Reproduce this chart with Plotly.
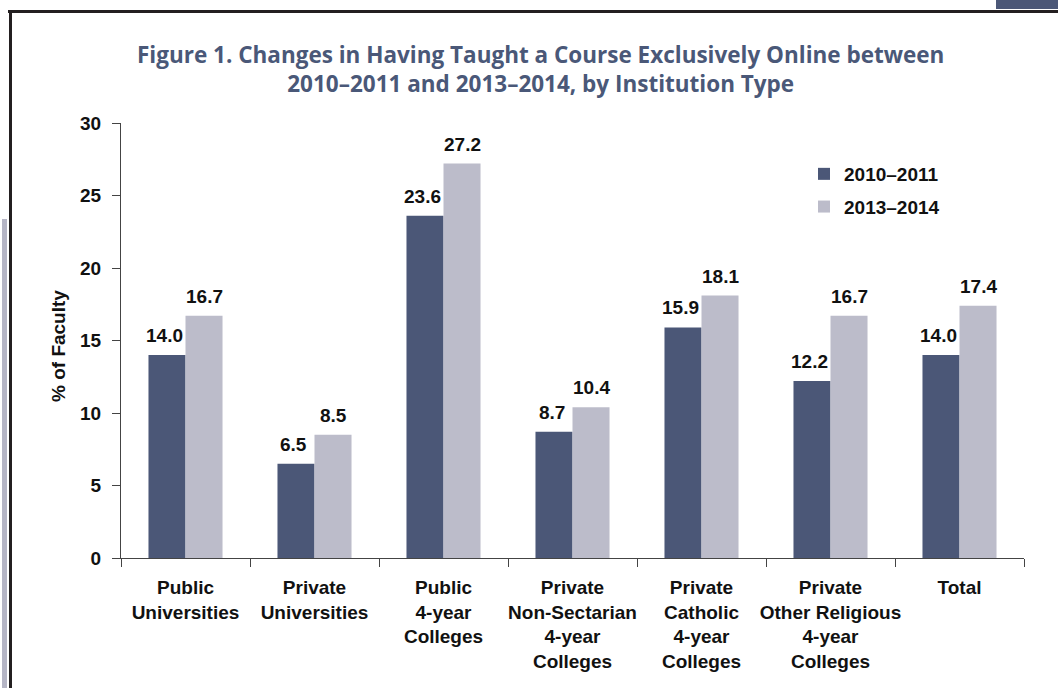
import plotly.graph_objects as go

categories = [
    "Public<br>Universities",
    "Private<br>Universities",
    "Public<br>4-year<br>Colleges",
    "Private<br>Non-Sectarian<br>4-year<br>Colleges",
    "Private<br>Catholic<br>4-year<br>Colleges",
    "Private<br>Other Religious<br>4-year<br>Colleges",
    "Total",
]
values_2010_2011 = [14.0, 6.5, 23.6, 8.7, 15.9, 12.2, 14.0]
values_2013_2014 = [16.7, 8.5, 27.2, 10.4, 18.1, 16.7, 17.4]
series_names = ["2010\u20132011", "2013\u20132014"]
y_ticks = [0, 5, 10, 15, 20, 25, 30]
title_text = ("Figure 1. Changes in Having Taught a Course Exclusively Online between<br>"
              "2010\u20132011 and 2013\u20132014, by Institution Type")
y_title = "% of Faculty"

W, H = 1058, 688
PL, PR, PT, PB = 121, 1024, 123, 558

DARK = "#4b5777"
LIGHT = "#bcbcca"
FONT = "Liberation Sans, Arial, sans-serif"
BOLD = dict(family=FONT, size=19, color="#111111", weight="bold")


def px_x(x):
    return (x - PL) / (PR - PL)


def px_y(y):
    return (PB - y) / (PB - PT)


fig = go.Figure()
series = [values_2010_2011, values_2013_2014]
for i, (name, vals, col) in enumerate(zip(series_names, series, [DARK, LIGHT])):
    fig.add_trace(go.Bar(
        x=categories, y=vals, name=name, marker=dict(color=col, line=dict(width=0)),
        legendgroup=f"g{i}", hoverinfo="x+y+name",
    ))

# value labels above the bars (about half a bar width left/right of the category centre)
annotations = []
for i, vals in enumerate(series):
    shift = -21 if i == 0 else 18.5
    for cat, v in zip(categories, vals):
        annotations.append(dict(
            x=cat, y=v, xref="x", yref="y", text=f"{v:.1f}", showarrow=False,
            xanchor="center", yanchor="bottom", xshift=shift, yshift=7, font=BOLD,
        ))

annotations.append(dict(
    text=title_text, xref="paper", yref="paper", x=px_x(540), y=px_y(69.5),
    xanchor="center", yanchor="middle", showarrow=False,
    font=dict(family="Open Sans, sans-serif", size=22.5, color="#4a5878", weight="bold"),
))
annotations.append(dict(
    text=y_title, xref="paper", yref="paper", x=px_x(58), y=px_y(346),
    xanchor="center", yanchor="middle", showarrow=False, textangle=-90, font=BOLD,
))

# page frame bits around the chart
frame = [
    (8, 10, W, 13, "#231f20"),
    (9, 10, 12, H, "#231f20"),
    (2, 219, 7, H, "#b5b5c5"),
    (996, 0, W, 9, DARK),
]
shapes = []
for x0, y0, x1, y1, c in frame:
    shapes.append(dict(type="rect", xref="paper", yref="paper",
                       x0=px_x(x0), x1=px_x(x1), y0=px_y(y1), y1=px_y(y0),
                       fillcolor=c, line=dict(width=0), layer="above"))

fig.update_layout(
    width=W, height=H,
    margin=dict(l=PL, r=W - PR, t=PT, b=H - PB),
    paper_bgcolor="white", plot_bgcolor="white",
    barmode="group", bargap=0.426, bargroupgap=0,
    font=dict(family=FONT, size=19, color="#111111"),
    legend=dict(
        x=px_x(804), y=px_y(155), xanchor="left", yanchor="top",
        font=BOLD, bgcolor="rgba(0,0,0,0)", tracegroupgap=5, traceorder="grouped",
    ),
    shapes=shapes,
    annotations=annotations,
)

fig.update_yaxes(
    range=[0, 30], tickvals=y_ticks, showgrid=False, zeroline=False, automargin=False,
    showline=True, linecolor="#444444", linewidth=1,
    ticks="outside", ticklen=8, tickcolor="#444444", ticklabelstandoff=7,
    tickfont=BOLD,
)
fig.update_xaxes(
    showgrid=False, showline=True, linecolor="#444444", linewidth=1, automargin=False,
    ticks="outside", ticklen=8, tickcolor="#444444", tickson="boundaries",
    tickangle=0, ticklabelstandoff=12,
    tickfont=BOLD,
)

# drop the browser's default body margin so the figure sits at the page corner
fig.write_html("out.html", config={"displayModeBar": False},
               post_script="document.body.style.margin='0px';")
